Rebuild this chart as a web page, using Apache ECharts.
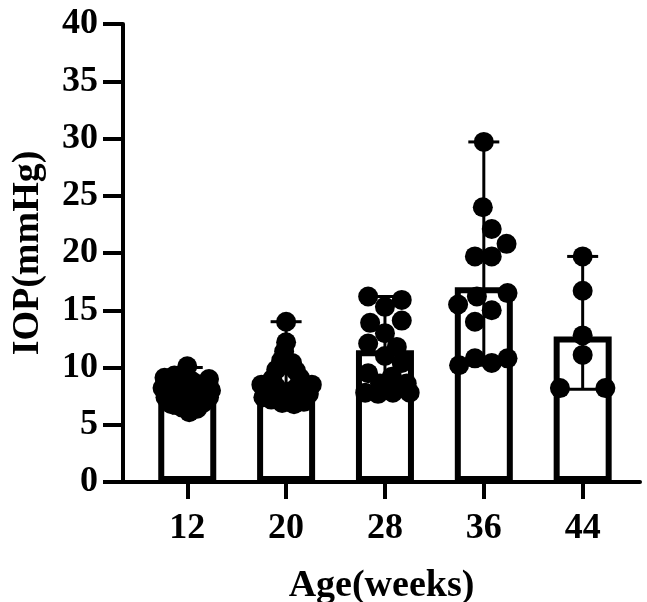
<!DOCTYPE html>
<html>
<head>
<meta charset="utf-8">
<script src="https://cdn.jsdelivr.net/npm/echarts@6/dist/echarts.min.js"></script>
<style>
html,body{margin:0;padding:0;background:#fff;}
#chart{width:647px;height:602px;}
</style>
</head>
<body>
<div id="chart"></div>
<script>
// ---- data ----
var categories = ['12', '20', '28', '36', '44'];
var yTicks = [0, 5, 10, 15, 20, 25, 30, 35, 40];
var means = [8.0, 8.4, 11.5, 17.0, 12.7];
var rangeMin = [6.0, 6.8, 7.8, 10.2, 8.1];
var rangeMax = [10.0, 14.0, 16.2, 29.7, 19.7];

// individual points: values and horizontal spread (in category units)
var pts12 = [10.1, 9.1, 9.3, 8.8, 9.0, 8.5, 8.2, 8.3, 8.0, 8.0, 7.8, 7.4, 7.6, 7.3, 7.4, 6.8, 6.9, 6.5, 6.1, 6.4, 7.0];
var off12 = [0, -0.23, -0.13, 0.05, 0.22, 0.12, -0.25, -0.1, 0.0, 0.24, 0.1, -0.22, -0.08, 0.05, 0.22, -0.16, 0.16, -0.05, 0.02, 0.1, -0.02];
var pts20 = [14.0, 12.2, 11.4, 10.6, 10.4, 9.8, 9.7, 9.0, 9.1, 8.5, 8.5, 8.3, 8.2, 7.8, 7.9, 7.7, 7.5, 7.3, 7.6, 7.2, 6.9, 6.8, 7.0, 7.4];
var off20 = [0, 0, -0.02, -0.05, 0.06, -0.1, 0.1, -0.14, 0.14, -0.25, 0.26, -0.1, 0.1, -0.2, 0.04, 0.23, -0.08, 0.12, 0.0, -0.15, -0.04, 0.08, 0.18, -0.23];
var pts28 = [16.2, 15.9, 15.3, 13.9, 14.1, 13.0, 12.1, 11.8, 11.0, 10.4, 9.5, 9.2, 8.6, 7.8, 7.7, 7.8, 7.8, 8.6];
var off28 = [-0.17, 0.17, 0, -0.15, 0.17, 0, -0.17, 0.12, 0.0, 0.17, -0.17, 0.07, -0.05, -0.2, -0.07, 0.08, 0.25, 0.22];
var pts36 = [29.7, 24.0, 22.1, 20.8, 19.7, 19.7, 16.5, 16.2, 15.5, 15.0, 14.0, 10.2, 10.8, 10.4, 10.8];
var off36 = [0, -0.01, 0.08, 0.23, -0.09, 0.08, 0.24, -0.07, -0.26, 0.08, -0.09, -0.25, -0.09, 0.08, 0.24];
var pts44 = [19.7, 16.7, 12.8, 11.1, 8.2, 8.2];
var off44 = [0, 0, 0, 0, -0.23, 0.23];

var groupPts = [pts12, pts20, pts28, pts36, pts44];
var groupOff = [off12, off20, off28, off36, off44];

var FONT = "'Times New Roman', 'Liberation Serif', serif";

var barData = means.map(function (m, i) { return [i, m]; });
var errData = rangeMin.map(function (lo, i) { return [i, lo, rangeMax[i]]; });
var scatterData = [];
groupPts.forEach(function (arr, g) {
  arr.forEach(function (v, k) { scatterData.push([g + groupOff[g][k], v]); });
});

var chart = echarts.init(document.getElementById('chart'), null, {renderer: 'canvas'});
chart.setOption({
  animation: false,
  backgroundColor: '#fff',
  grid: {left: 123, right: 7, top: 24, bottom: 120, containLabel: false, outerBoundsMode: 'none'},
  xAxis: {
    type: 'value',
    min: -0.65,
    max: 4.58,
    splitLine: {show: false},
    axisLine: {show: true, onZero: false, lineStyle: {color: '#000', width: 4}},
    axisTick: {show: true, customValues: [0, 1, 2, 3, 4], length: 17, lineStyle: {color: '#000', width: 4}},
    axisLabel: {
      customValues: [0, 1, 2, 3, 4],
      formatter: function (v) { return categories[Math.round(v)]; },
      color: '#000', fontFamily: FONT, fontWeight: 'bold', fontSize: 36, margin: 29
    },
    name: 'Age(weeks)',
    nameLocation: 'middle',
    nameGap: 85,
    nameTextStyle: {color: '#000', fontFamily: FONT, fontWeight: 'bold', fontSize: 38}
  },
  yAxis: {
    type: 'value',
    min: 0,
    max: 40,
    interval: 5,
    splitLine: {show: false},
    axisLine: {show: true, onZero: false, lineStyle: {color: '#000', width: 4}},
    axisTick: {show: true, length: 20, lineStyle: {color: '#000', width: 4}},
    axisLabel: {
      formatter: function (v) { return yTicks.indexOf(v) >= 0 ? String(v) : ''; },
      color: '#000', fontFamily: FONT, fontWeight: 'bold', fontSize: 36, margin: 25
    },
    name: 'IOP(mmHg)',
    nameLocation: 'middle',
    nameGap: 76,
    nameTextStyle: {color: '#000', fontFamily: FONT, fontWeight: 'bold', fontSize: 38}
  },
  series: [
    {
      type: 'bar',
      data: barData,
      barWidth: 58,
      itemStyle: {color: '#fff', borderColor: '#000', borderWidth: 6},
      z: 1
    },
    {
      type: 'custom',
      data: errData,
      z: 3,
      renderItem: function (params, api) {
        var x = api.value(0);
        var lo = api.coord([x, api.value(1)]);
        var hi = api.coord([x, api.value(2)]);
        var hw = 15.5;
        var st = {stroke: '#000', lineWidth: 3};
        return {
          type: 'group',
          children: [
            {type: 'line', shape: {x1: lo[0], y1: lo[1], x2: hi[0], y2: hi[1]}, style: st},
            {type: 'line', shape: {x1: hi[0] - hw, y1: hi[1], x2: hi[0] + hw, y2: hi[1]}, style: st},
            {type: 'line', shape: {x1: lo[0] - hw, y1: lo[1], x2: lo[0] + hw, y2: lo[1]}, style: st}
          ]
        };
      }
    },
    {
      type: 'scatter',
      data: scatterData,
      symbol: 'circle',
      symbolSize: 20,
      itemStyle: {color: '#000', opacity: 1},
      z: 4
    }
  ]
});
</script>
</body>
</html>
